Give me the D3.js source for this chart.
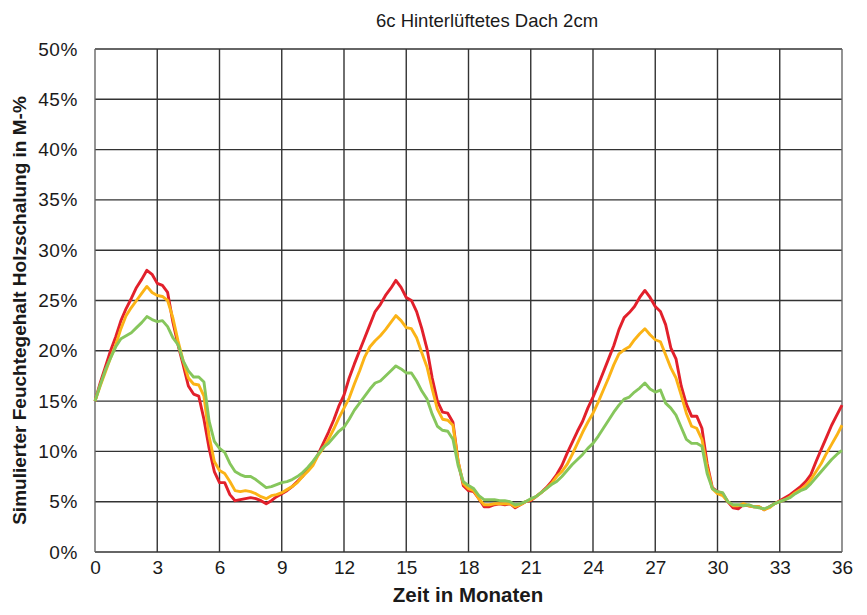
<!DOCTYPE html>
<html>
<head>
<meta charset="utf-8">
<script src="https://cdn.jsdelivr.net/npm/d3@7"></script>
<style>
  html, body { margin: 0; padding: 0; background: #fff; }
  svg { display: block; }
  text { font-family: "Liberation Sans", Arial, Helvetica, sans-serif; fill: #1a1a1a; }
</style>
</head>
<body>
<svg id="chart" width="867" height="615"></svg>
<script>
const title = "6c Hinterlüftetes Dach 2cm";
const xTitle = "Zeit in Monaten";
const yTitle = "Simulierter Feuchtegehalt Holzschalung in M-%";

const xTicks = [0, 3, 6, 9, 12, 15, 18, 21, 24, 27, 30, 33, 36];
const yTicks = [0, 5, 10, 15, 20, 25, 30, 35, 40, 45, 50];

// months 0 .. 36 in steps of 0.25
const months = d3.range(0, 36.0001, 0.25);

const seriesRed = [
  15.0,16.8,18.4,20.0,21.4,23.0,24.2,25.2,26.3,27.1,28.0,27.6,
  26.7,26.5,25.8,22.9,20.6,18.6,16.5,15.7,15.5,13.2,10.3,8.0,
  6.9,6.9,5.7,5.1,5.2,5.3,5.4,5.3,5.1,4.8,5.1,5.5,
  5.8,6.1,6.5,7.0,7.5,8.2,8.8,9.7,10.8,11.9,13.1,14.5,
  15.6,17.3,18.7,20.0,21.3,22.6,23.9,24.6,25.5,26.2,27.0,26.3,
  25.3,25.0,23.9,22.2,20.2,17.3,15.0,13.9,13.8,12.9,9.0,6.6,
  6.1,6.0,5.3,4.5,4.5,4.7,4.8,4.7,4.8,4.4,4.7,5.0,
  5.1,5.5,5.9,6.4,7.0,7.7,8.6,9.8,10.9,12.0,13.0,14.3,
  15.4,16.6,17.9,19.2,20.5,22.1,23.3,23.8,24.4,25.3,26.0,25.3,
  24.4,23.9,22.6,20.3,19.2,16.5,14.7,13.5,13.5,12.3,8.8,6.4,
  6.0,5.8,5.0,4.4,4.3,4.7,4.6,4.5,4.5,4.2,4.5,4.8,
  5.1,5.4,5.7,6.1,6.5,7.0,7.7,9.0,10.2,11.4,12.6,13.6,
  14.6
];

const seriesOrange = [
  15.0,16.5,17.9,19.3,20.6,22.2,23.5,24.3,25.0,25.7,26.4,25.8,
  25.5,25.4,25.0,23.3,21.0,19.0,17.3,16.7,16.6,15.5,11.5,9.0,
  8.1,7.8,7.0,6.1,6.0,6.1,6.0,5.8,5.5,5.3,5.6,5.7,
  5.9,6.2,6.5,6.9,7.5,8.0,8.6,9.6,10.3,11.2,12.2,13.3,
  14.3,15.3,16.7,18.0,19.4,20.4,21.0,21.5,22.1,22.8,23.5,23.0,
  22.3,22.2,21.3,19.8,18.4,16.2,14.2,13.2,13.1,12.6,9.0,6.8,
  6.3,6.1,5.3,4.7,4.7,4.8,4.8,4.8,4.8,4.5,4.7,5.0,
  5.2,5.5,5.9,6.3,6.8,7.5,8.0,8.7,9.7,10.8,11.9,12.9,
  13.8,14.9,16.1,17.3,18.6,19.7,20.1,20.4,21.1,21.7,22.2,21.6,
  21.1,20.9,19.6,18.3,17.3,15.6,13.8,12.5,12.3,11.2,8.4,6.3,
  5.8,5.6,5.0,4.6,4.6,4.8,4.6,4.5,4.5,4.2,4.4,4.8,
  5.0,5.2,5.5,5.9,6.2,6.6,7.2,8.0,8.8,9.8,10.7,11.6,
  12.6
];

const seriesGreen = [
  15.0,16.6,18.1,19.3,20.4,21.2,21.5,21.8,22.3,22.8,23.4,23.1,
  22.9,23.0,22.4,21.3,20.6,19.0,18.0,17.4,17.4,16.9,13.0,11.0,
  10.3,9.9,8.8,8.0,7.7,7.5,7.5,7.2,6.8,6.4,6.5,6.7,
  6.9,7.0,7.2,7.5,7.9,8.4,9.0,9.7,10.4,10.8,11.4,12.0,
  12.4,13.2,14.1,14.8,15.5,16.2,16.8,17.0,17.5,18.0,18.5,18.2,
  17.8,17.8,17.0,16.0,15.2,13.7,12.5,12.1,12.0,11.2,8.6,7.0,
  6.6,6.3,5.6,5.2,5.2,5.2,5.1,5.1,5.0,4.7,4.8,5.0,
  5.3,5.5,5.9,6.3,6.7,7.0,7.5,8.1,8.7,9.2,9.7,10.3,
  10.8,11.5,12.3,13.1,13.9,14.6,15.2,15.4,15.9,16.3,16.8,16.2,
  15.9,16.1,14.8,14.3,13.6,12.4,11.2,10.8,10.8,10.5,7.8,6.3,
  6.0,5.9,5.0,4.7,4.7,4.6,4.7,4.5,4.4,4.3,4.5,4.8,
  5.0,5.2,5.4,5.8,6.1,6.3,6.8,7.4,8.0,8.6,9.2,9.7,
  10.1
];

const seriesNames = ["rot", "orange", "grün"];
const seriesColors = ["#e2202b", "#fbb316", "#86c65c"];
const seriesValues = [seriesRed, seriesOrange, seriesGreen];

const svg = d3.select("#chart");
const margin = { left: 95, right: 25, top: 49, bottom: 63 };
const W = 867, H = 615;
const iw = W - margin.left - margin.right;
const ih = H - margin.top - margin.bottom;

const x = d3.scaleLinear().domain([0, 36]).range([margin.left, margin.left + iw]);
const y = d3.scaleLinear().domain([0, 50]).range([margin.top + ih, margin.top]);

// grid
const grid = svg.append("g");
grid.selectAll("line.h").data(yTicks).join("line")
  .attr("x1", x(0)).attr("x2", x(36))
  .attr("y1", d => y(d)).attr("y2", d => y(d))
  .attr("stroke", "#333").attr("stroke-width", 1.4);
grid.selectAll("line.v").data(xTicks).join("line")
  .attr("y1", y(0)).attr("y2", y(50))
  .attr("x1", d => x(d)).attr("x2", d => x(d))
  .attr("stroke", d => (d === 0 || d === 36) ? "#666" : "#333")
  .attr("stroke-width", 1.4);

// axes labels
const yAxis = d3.axisLeft(y).tickValues(yTicks).tickFormat(d => d + "%").tickSize(0).tickPadding(17);
const gy = svg.append("g").attr("transform", `translate(${margin.left},0)`).call(yAxis);
gy.select(".domain").remove();
gy.selectAll("text").attr("font-size", 19).attr("fill", "#1a1a1a")
  .style("font-family", '"Liberation Sans", Arial, sans-serif').attr("letter-spacing", 0.6);

const xAxis = d3.axisBottom(x).tickValues(xTicks).tickFormat(d => d).tickSize(0).tickPadding(9);
const gx = svg.append("g").attr("transform", `translate(0,${margin.top + ih})`).call(xAxis);
gx.select(".domain").remove();
gx.selectAll("text").attr("font-size", 19).attr("fill", "#1a1a1a")
  .style("font-family", '"Liberation Sans", Arial, sans-serif');

// lines
const line = d3.line().x((d, i) => x(months[i])).y(d => y(d));
svg.append("g").selectAll("path").data(seriesValues).join("path")
  .attr("d", d => line(d))
  .attr("fill", "none")
  .attr("stroke", (d, i) => seriesColors[i])
  .attr("stroke-width", 2.9)
  .attr("stroke-linejoin", "round");

// titles
svg.append("text").attr("x", 487).attr("y", 27).attr("text-anchor", "middle")
  .attr("font-size", 18.5).text(title);
svg.append("text").attr("x", 468).attr("y", 602).attr("text-anchor", "middle")
  .attr("font-size", 20.5).attr("font-weight", "bold").text(xTitle);
svg.append("text").attr("transform", `translate(26,${(y(0) + y(50)) / 2 + 10}) rotate(-90)`)
  .attr("text-anchor", "middle").attr("font-size", 19).attr("font-weight", "bold").text(yTitle);
</script>
</body>
</html>
